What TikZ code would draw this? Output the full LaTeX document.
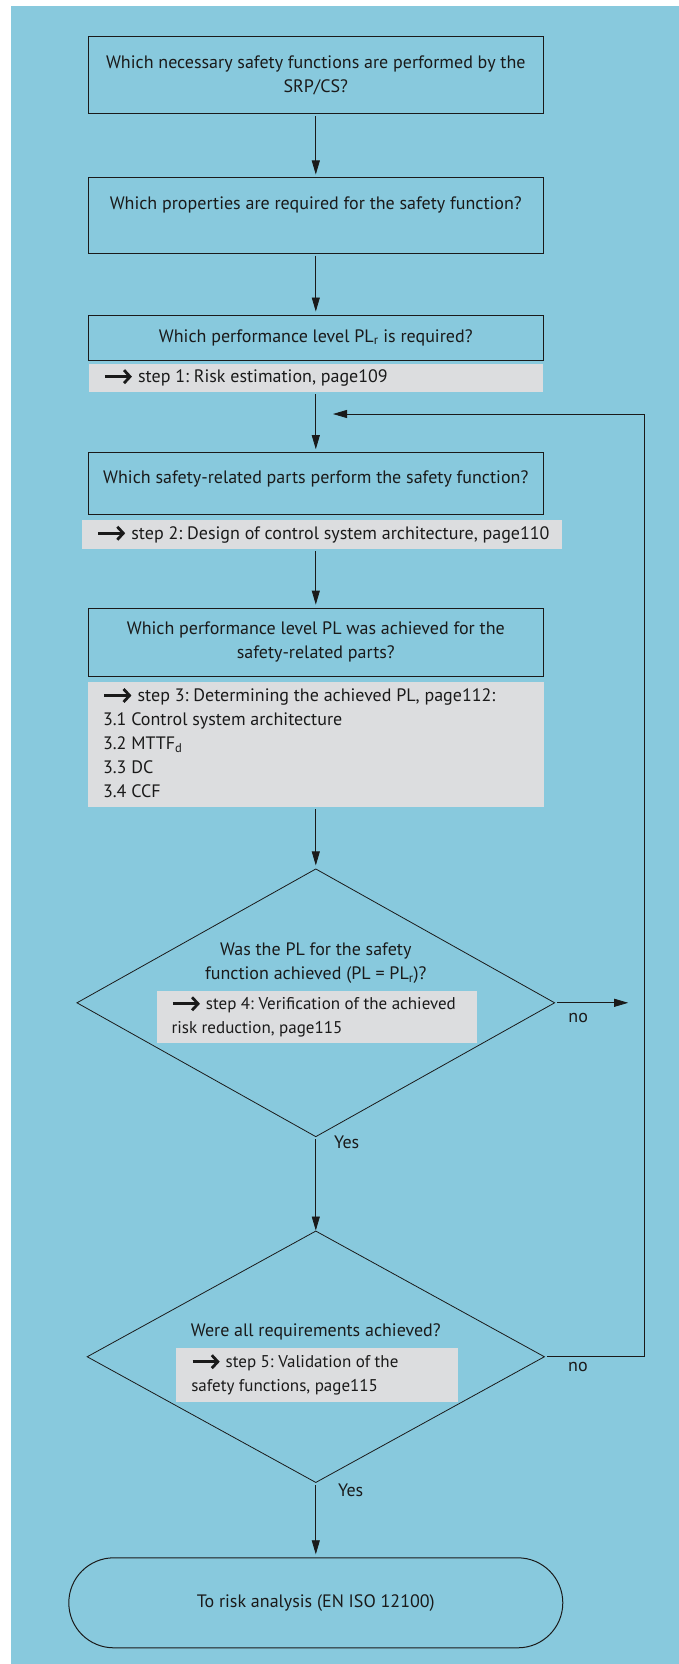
\documentclass[tikz,border=0pt]{standalone}
\usepackage{fontspec}
\setmainfont{PT Sans}
\usepackage{tikz}
\usetikzlibrary{arrows.meta,positioning,shapes.geometric}

\definecolor{bgblue}{HTML}{88C9DD}
\definecolor{notegrey}{HTML}{DCDDDF}
\definecolor{ink}{HTML}{1A1A1A}

% bold arrow at the start of each step note
\newcommand{\stepto}{\tikz[baseline=-6pt]\draw[line width=2.8pt,
  -{Straight Barb[length=6pt,width=13pt]}] (0pt,0pt) -- (27pt,0pt);}
% left padded text block of a grey note
\newcommand{\notebody}[2]{\begin{tabular}{@{\hspace{15pt}}p{#1}@{}}#2\end{tabular}}

\begin{document}
\frenchspacing
\begin{tikzpicture}[x=1pt, y=-1pt,
  font=\fontsize{18}{24}\selectfont, color=ink,
  box/.style={draw=ink, line width=1pt, minimum width=455pt, align=center, inner sep=0pt},
  note/.style={fill=notegrey, inner sep=0pt},
  tight/.style={font=\fontsize{17}{23.5}\selectfont},
  decision/.style={diamond, draw=ink, line width=0.8pt, inner sep=0pt},
  lbl/.style={inner sep=1pt},
  flow/.style={->, line width=0.8pt, shorten <=2pt, shorten >=3pt},
  >={Triangle[length=14pt,width=8pt]}]
\fill[bgblue] (11,6) rectangle (679,1664);
\useasboundingbox (0,0) rectangle (679,1664);

\node[box, minimum height=77pt] (q1) at (315.8,75.5)
  {Which necessary safety functions are performed by the\\SRP/CS?};
\node[box, minimum height=75pt, below=63pt of q1] (q2)
  {Which properties are required for the safety function?\\\mbox{}};
\node[box, minimum height=45pt, below=61pt of q2] (q3)
  {Which performance level PL\textsubscript{r} is required?};
\node[note, minimum height=28.3pt, below=3pt of q3] (s1)
  {\notebody{439.5pt}{\stepto\ step 1: Risk estimation, page109}};
\node[box, minimum height=62pt, below=60pt of s1] (q4)
  {Which safety-related parts perform the safety function?\\[-10pt]\mbox{}};
\node[note, minimum height=28.7pt, below=4.7pt of q4, xshift=6pt] (s2)
  {\notebody{465pt}{\stepto\ step 2: Design of control system architecture, page110}};
\node[box, minimum height=68.7pt, below=58.6pt of s2.south -| q4, anchor=north] (q5)
  {Which performance level PL was achieved for the\\safety-related parts?};
\node[note, minimum height=125pt, below=4.7pt of q5] (s3)
  {\notebody{440.5pt}{\stepto\ step 3: Determining the achieved PL, page112:\\
   3.1 Control system architecture\\
   3.2 MTTF\textsubscript{d}\\
   3.3 DC\\
   3.4 CCF}};

\node[decision, minimum width=478pt, minimum height=268pt, below=61pt of s3] (d1) {};
\node[align=center, inner sep=0pt] (d1q) at ([yshift=39.7pt]d1.center)
  {Was the PL for the safety\\function achieved (PL = PL\textsubscript{r})?};
\node[note, tight, minimum height=51.7pt] (s4) at ([xshift=1pt,yshift=-14pt]d1.center)
  {\notebody{305.5pt}{\stepto\ step 4: Verification of the achieved\\risk reduction, page115}};

\node[decision, minimum width=457.5pt, minimum height=251.7pt, below=93.3pt of d1] (d2) {};
\node[inner sep=0pt] (d2q) at ([yshift=25pt]d2.center) {Were all requirements achieved?};
\node[note, tight, minimum height=54pt] (s5) at ([xshift=1.5pt,yshift=-18pt]d2.center)
  {\notebody{267pt}{\stepto\ step 5: Validation of the\\safety functions, page115}};

\node[draw=ink, line width=1pt, rounded corners=45pt, minimum width=494pt,
  minimum height=90pt, below=74.3pt of d2] (end) {To risk analysis (EN ISO 12100)};

% labels
\node[lbl, anchor=north west] (no1) at ([xshift=12pt,yshift=-9pt]d1.east) {no};
\node[lbl, anchor=north west] (yes1) at ([xshift=17pt,yshift=3pt]d1.south) {Yes};
\node[lbl, anchor=north west] (no2) at ([xshift=22pt,yshift=-4pt]d2.east) {no};
\node[lbl, anchor=north west] (yes2) at ([xshift=21pt]d2.south) {Yes};

% loop back
\coordinate (back) at (644,414);
\coordinate (backend) at (333,414);
\coordinate[right=73pt of d1.east] (noend);

\draw[flow] (q1) -- (q2);
\draw[flow] (q2) -- (q3);
\draw[flow] (s1) -- (q4);
\draw[flow] (s2.south -| q5) -- (q5);
\draw[flow] (s3.south -| d1) -- (d1);
\draw[flow, shorten >=0pt] (d1) -- (d2);
\draw[flow] (d2) -- (end);
\draw[flow, shorten >=0pt] (d1.east) -- (noend);
\draw[flow, shorten >=0pt] (d2.east) -| (back) -- (backend);
\end{tikzpicture}
\end{document}
